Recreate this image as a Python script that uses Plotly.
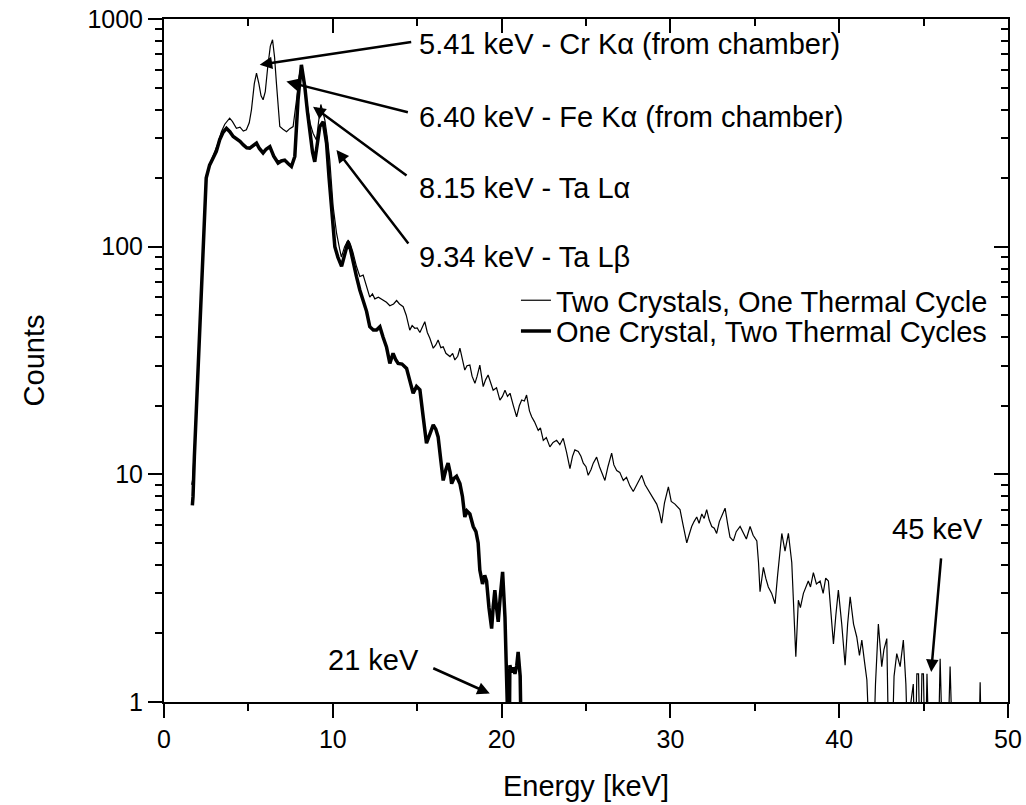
import plotly.graph_objects as go

# ---------------- data ----------------
thick_energy = [1.68, 1.72, 1.80, 1.95, 2.10, 2.30, 2.50, 2.70, 2.90, 3.10,
                3.30, 3.50, 3.70, 3.90, 4.10, 4.29, 4.50, 4.70, 4.90, 5.08,
                5.30, 5.48, 5.65, 5.87, 6.05, 6.27, 6.50, 6.76, 6.95, 7.15,
                7.35, 7.55, 7.75, 7.94, 8.14, 8.34, 8.50, 8.64, 8.80, 8.93,
                9.08, 9.23, 9.43, 9.63, 9.78, 9.92, 10.12, 10.30, 10.52, 10.70,
                10.91, 11.05, 11.20, 11.40, 11.60, 11.80, 12.00, 12.19, 12.40, 12.59,
                12.79, 12.98, 13.18, 13.38, 13.57, 13.72, 13.87, 14.10, 14.37, 14.55,
                14.76, 14.96, 15.16, 15.35, 15.55, 15.75, 15.95, 16.10, 16.24, 16.40,
                16.54, 16.70, 16.83, 16.95, 17.04, 17.18, 17.33, 17.53, 17.68, 17.82,
                17.95, 18.12, 18.32, 18.48, 18.61, 18.71, 18.87, 19.00, 19.11, 19.25,
                19.41, 19.50, 19.60, 19.70, 19.80, 19.92, 20.06, 20.20, 20.30, 20.38,
                20.44, 20.49, 20.60, 20.70, 20.79, 20.90, 20.98, 21.10, 21.19]
thick_counts = [7.3, 8.0, 12, 22, 40, 95, 200, 228, 245, 262,
                295, 318, 331, 320, 305, 299, 290, 280, 272, 271,
                280, 285, 270, 258, 268, 275, 250, 233, 238, 240,
                232, 225, 249, 442, 629, 505, 390, 315, 260, 236,
                280, 337, 354, 285, 200, 153, 100, 90, 82, 92,
                105, 97, 85, 74, 64.5, 58, 52, 44.5, 43, 43,
                44.5, 40, 36.3, 30.7, 34, 32, 30.7, 30.5, 29.2, 26,
                22.7, 24.3, 23.5, 18, 13.7, 15, 16.5, 15.8, 14.6, 11.5,
                9.4, 10.5, 11.2, 10.2, 9.1, 9.6, 9.8, 9.1, 8.0, 6.5,
                6.9, 6.7, 5.9, 5.6, 5.0, 3.8, 3.3, 3.6, 3.4, 2.6,
                2.1, 2.6, 3.1, 2.6, 2.25, 2.9, 3.73, 2.36, 1.05, 0.5,
                0.5, 1.45, 1.35, 1.42, 1.33, 1.45, 1.66, 1.3, 0.5]

thin_energy = [1.64, 1.70, 1.80, 1.95, 2.10, 2.30, 2.50, 2.77, 3.00, 3.20,
               3.40, 3.60, 3.89, 4.05, 4.29, 4.50, 4.70, 4.88, 5.05, 5.18,
               5.35, 5.48, 5.62, 5.75, 5.87, 6.00, 6.15, 6.30, 6.43, 6.55,
               6.66, 6.76, 6.86, 7.05, 7.26, 7.45, 7.65, 7.85, 8.00, 8.14,
               8.30, 8.44, 8.65, 8.83, 9.03, 9.15, 9.29, 9.40, 9.53, 9.68,
               9.82, 10.02, 10.22, 10.40, 10.51, 10.70, 10.91, 11.05, 11.20, 11.40,
               11.60, 11.80, 12.00, 12.19, 12.35, 12.49, 12.70, 12.98, 13.18, 13.38,
               13.60, 13.78, 13.95, 14.17, 14.35, 14.56, 14.70, 14.86, 15.00, 15.16,
               15.30, 15.45, 15.60, 15.75, 15.95, 16.10, 16.24, 16.40, 16.54, 16.70,
               16.94, 17.10, 17.23, 17.40, 17.53, 17.70, 17.82, 17.95, 18.12, 18.25,
               18.42, 18.55, 18.71, 18.91, 19.05, 19.20, 19.35, 19.50, 19.70, 19.90,
               20.05, 20.20, 20.35, 20.50, 20.70, 20.89, 21.05, 21.19, 21.35, 21.48,
               21.65, 21.78, 21.95, 22.17, 22.30, 22.47, 22.65, 22.86, 23.05, 23.26,
               23.45, 23.65, 23.85, 24.05, 24.20, 24.34, 24.54, 24.70, 24.84, 25.00,
               25.13, 25.30, 25.43, 25.63, 25.80, 25.95, 26.12, 26.30, 26.52, 26.65,
               26.82, 27.00, 27.21, 27.40, 27.60, 27.80, 28.00, 28.15, 28.30, 28.50,
               28.65, 28.79, 29.00, 29.19, 29.35, 29.48, 29.65, 29.88, 30.05, 30.27,
               30.45, 30.57, 30.75, 30.97, 31.10, 31.26, 31.40, 31.56, 31.70, 31.86,
               32.00, 32.15, 32.30, 32.45, 32.60, 32.74, 32.90, 33.05, 33.24, 33.40,
               33.53, 33.73, 33.90, 34.13, 34.32, 34.50, 34.72, 34.90, 35.12, 35.22,
               35.31, 35.51, 35.65, 35.80, 36.00, 36.20, 36.35, 36.50, 36.60, 36.79,
               36.99, 37.19, 37.30, 37.43, 37.58, 37.70, 37.88, 38.05, 38.17, 38.30,
               38.47, 38.65, 38.87, 39.05, 39.20, 39.36, 39.50, 39.66, 39.80, 39.95,
               40.15, 40.35, 40.50, 40.65, 40.85, 41.04, 41.20, 41.34, 41.50, 41.64,
               41.85, 42.00, 42.15, 42.32, 42.52, 42.65, 42.82, 42.95, 43.10, 43.25,
               43.41, 43.61, 43.80, 43.95, 44.10, 44.25, 44.39, 44.50, 44.60, 44.70,
               44.80, 44.90, 44.99, 45.10, 45.20, 45.35, 45.60, 45.85, 45.98, 46.15,
               46.40, 46.57, 46.75, 47.00, 48.25, 48.35, 48.45]
thin_counts = [9.0, 9.5, 13, 23, 42, 100, 205, 236, 262, 285,
               320, 345, 367, 355, 331, 335, 322, 326, 350, 399,
               520, 578, 520, 460, 442, 480, 620, 760, 811, 680,
               523, 400, 337, 328, 320, 330, 337, 442, 560, 618,
               520, 442, 350, 315, 294, 350, 421, 395, 360, 300,
               240, 150, 115, 98, 90, 100, 107, 102, 94, 82,
               74, 75, 66, 60, 62, 59, 60, 58, 57, 55,
               56, 58, 56, 54.5, 50, 43, 45, 43.8, 44, 42,
               44, 46.8, 42, 39.6, 35.8, 37, 38.9, 36, 36.3, 34,
               32.9, 34, 31.8, 33, 35.8, 31, 28.7, 30, 30.2, 27,
               25.1, 27, 30.2, 24.3, 26, 27.3, 25, 23.4, 24, 21.2,
               22, 23.4, 22, 22.7, 20, 17.9, 20, 21.2, 21, 22.3,
               19, 17.9, 17, 15.6, 16, 14.1, 14.5, 13.2, 13.8, 14.1,
               13.5, 14.4, 12.5, 10.6, 12, 12.8, 12.6, 12, 11.2, 10.8,
               9.9, 10.5, 11.2, 11.9, 10.8, 10.2, 9.4, 10.8, 12.4, 11,
               10.4, 10.2, 9.4, 9.7, 8.9, 8.4, 9.0, 9.5, 9.9, 9.0,
               8.6, 8.2, 7.8, 7.4, 6.8, 6.1, 7.5, 8.8, 7.6, 7.4,
               7.2, 7.0, 6.0, 5.0, 5.4, 5.9, 6.2, 6.5, 6.1, 6.7,
               6.4, 7.0, 6.3, 5.9, 5.8, 5.5, 6.2, 6.6, 7.1, 6.0,
               5.3, 5.1, 5.6, 5.9, 5.5, 5.2, 5.9, 5.4, 5.1, 4.1,
               3.05, 3.9, 3.5, 3.2, 3.0, 2.7, 3.6, 4.8, 5.5, 4.6,
               5.5, 4.1, 2.6, 1.58, 2.8, 2.6, 3.0, 3.2, 3.4, 3.2,
               3.7, 3.3, 3.4, 3.0, 3.5, 3.4, 2.6, 1.8, 2.4, 3.1,
               2.2, 1.45, 2.2, 2.9, 2.2, 1.93, 1.6, 1.87, 1.5, 1.25,
               0.5, 0.5, 1.2, 2.2, 1.43, 1.7, 1.9, 0.5, 0.5, 1.3,
               1.63, 1.43, 1.87, 1.2, 0.5, 1.0, 1.2, 0.5, 1.33, 1.33,
               0.5, 1.33, 1.33, 0.5, 1.33, 0.5, 0.5, 0.5, 1.55, 0.5,
               0.5, 1.43, 0.5, 0.5, 0.5, 1.22, 0.5]

series_names = ["Two Crystals, One Thermal Cycle", "One Crystal, Two Thermal Cycles"]

y_tickvals = [1, 10, 100, 1000]
y_ticktext = ["1", "10", "100", "1000"]

# line annotations: text, arrow head (energy, log10 counts), tail offset px, text position
peak_labels = ["5.41 keV - Cr K\u03b1 (from chamber)",
               "6.40 keV - Fe K\u03b1 (from chamber)",
               "8.15 keV - Ta L\u03b1",
               "9.34 keV - Ta L\u03b2"]
peak_head_E = [5.67, 7.25, 8.83, 10.22]
peak_head_logc = [2.799, 2.725, 2.615, 2.425]
peak_tail_dx = [153, 123, 95, 73]
peak_tail_dy = [-23, 31, 70, 95]
peak_text_E = [14.98, 14.98, 14.98, 14.98]
peak_text_logc = [2.891, 2.570, 2.258, 1.955]

edge_labels = ["21 keV", "45 keV"]
edge_head_E = [19.3, 45.45]
edge_head_logc = [0.037, 0.132]
edge_tail_dx = [-58, 10]
edge_tail_dy = [-26, -115]
edge_text_E = [12.43, 45.83]
edge_text_logc = [0.183, 0.759]

FONT = "Arial, 'Liberation Sans', sans-serif"

fig = go.Figure()
fig.add_trace(go.Scatter(x=thin_energy, y=thin_counts, mode="lines", name=series_names[0],
                         line=dict(color="black", width=1.2), legend="legend"))
fig.add_trace(go.Scatter(x=thick_energy, y=thick_counts, mode="lines", name=series_names[1],
                         line=dict(color="black", width=3.5), legend="legend2"))
# invisible helper traces so that the mirrored top / right axes (inward ticks) are drawn
fig.add_trace(go.Scatter(x=[25], y=[10], xaxis="x2", yaxis="y", mode="markers",
                         marker=dict(opacity=0, size=1), showlegend=False,
                         hoverinfo="skip"))
fig.add_trace(go.Scatter(x=[25], y=[10], xaxis="x", yaxis="y2", mode="markers",
                         marker=dict(opacity=0, size=1), showlegend=False,
                         hoverinfo="skip"))

annotations = []
for i in range(len(peak_labels)):
    annotations.append(dict(x=peak_head_E[i], y=peak_head_logc[i], xref="x", yref="y",
                            text="", showarrow=True, ax=peak_tail_dx[i], ay=peak_tail_dy[i],
                            arrowhead=2, arrowsize=1, arrowwidth=2.5, arrowcolor="black"))
    annotations.append(dict(x=peak_text_E[i], y=peak_text_logc[i], xref="x", yref="y",
                            text=peak_labels[i], showarrow=False, xanchor="left",
                            yanchor="middle", font=dict(size=29, color="black", family=FONT)))
for i in range(len(edge_labels)):
    annotations.append(dict(x=edge_head_E[i], y=edge_head_logc[i], xref="x", yref="y",
                            text="", showarrow=True, ax=edge_tail_dx[i], ay=edge_tail_dy[i],
                            arrowhead=2, arrowsize=1, arrowwidth=2.5, arrowcolor="black"))
    annotations.append(dict(x=edge_text_E[i], y=edge_text_logc[i], xref="x", yref="y",
                            text=edge_labels[i], showarrow=False, xanchor="center",
                            yanchor="middle", font=dict(size=29, color="black", family=FONT)))

axis_common = dict(showgrid=False, zeroline=False, showline=True, linewidth=2,
                   linecolor="black", tickwidth=2, tickcolor="black", automargin=False)

legend_common = dict(xanchor="left", yanchor="middle", bgcolor="rgba(0,0,0,0)",
                     font=dict(size=29, family=FONT, color="black"), itemwidth=30)

fig.update_layout(
    width=1026, height=805,
    margin=dict(l=164, r=18, t=19, b=103),
    paper_bgcolor="white", plot_bgcolor="white",
    font=dict(family=FONT, color="black", size=25),
    showlegend=True,
    legend=dict(x=0.417, y=0.588, **legend_common),
    legend2=dict(x=0.417, y=0.543, **legend_common),
    xaxis=dict(range=[0, 50], tick0=0, dtick=10, ticks="outside", ticklen=14,
               minor=dict(dtick=5, ticks="outside", ticklen=7, tickwidth=2, tickcolor="black"),
               tickfont=dict(size=25, family=FONT),
               title=dict(text="Energy [keV]", font=dict(size=29, family=FONT), standoff=24),
               **axis_common),
    xaxis2=dict(range=[0, 50], tick0=0, dtick=10, ticks="inside", ticklen=14,
                minor=dict(dtick=5, ticks="inside", ticklen=7, tickwidth=2, tickcolor="black"),
                overlaying="x", side="top", anchor="y", showticklabels=False,
                **axis_common),
    yaxis=dict(type="log", range=[0, 3], tickmode="array", tickvals=y_tickvals,
               ticktext=y_ticktext, ticks="outside", ticklen=14,
               minor=dict(dtick="D1", ticks="outside", ticklen=7,
                          tickwidth=2, tickcolor="black"),
               tickfont=dict(size=25, family=FONT),
               title=dict(text="Counts", font=dict(size=29, family=FONT), standoff=34),
               **axis_common),
    yaxis2=dict(type="log", range=[0, 3], tickmode="array", tickvals=y_tickvals,
                ticks="inside", ticklen=14,
                minor=dict(dtick="D1", ticks="inside", ticklen=7,
                           tickwidth=2, tickcolor="black"),
                overlaying="y", side="right", anchor="x", showticklabels=False,
                **axis_common),
    annotations=annotations,
)

fig.write_html("out.html", config={"displayModeBar": False},
               post_script="document.body.style.margin='0px';")
